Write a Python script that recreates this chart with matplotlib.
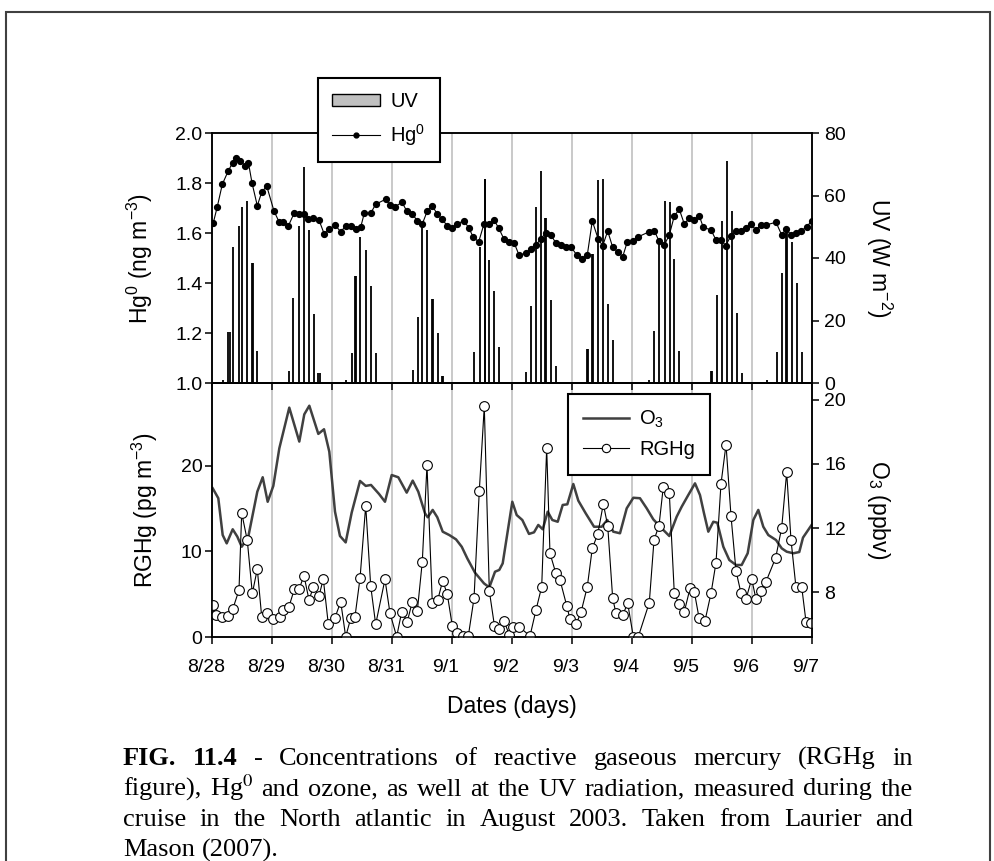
import matplotlib
matplotlib.use("Agg")
import matplotlib.pyplot as plt
import matplotlib.transforms as mtransforms
from matplotlib.patches import Patch, Rectangle
from matplotlib.lines import Line2D

plt.rcParams["font.family"] = ["Liberation Sans", "DejaVu Sans"]
plt.rcParams["mathtext.fontset"] = "custom"
plt.rcParams["mathtext.rm"] = "Liberation Sans"
plt.rcParams["mathtext.it"] = "Liberation Sans:italic"
plt.rcParams["mathtext.bf"] = "Liberation Sans:bold"

# --- Data (x in days after 8/28 00:00) ---
date_labels = ["8/28", "8/29", "8/30", "8/31", "9/1", "9/2",
               "9/3", "9/4", "9/5", "9/6", "9/7"]

hg_day = [0.022, 0.088, 0.172, 0.272, 0.342, 0.408, 0.475, 0.542, 0.608, 0.667,
          0.755, 0.828, 0.912, 1.033, 1.117, 1.188, 1.272, 1.372, 1.455, 1.538,
          1.605, 1.688, 1.783, 1.872, 1.955, 2.050, 2.145, 2.228, 2.312, 2.395,
          2.478, 2.538, 2.645, 2.728, 2.895, 2.967, 3.050, 3.167, 3.245, 3.338,
          3.422, 3.505, 3.588, 3.672, 3.755, 3.838, 3.922, 4.005, 4.078, 4.200,
          4.283, 4.355, 4.445, 4.533, 4.622, 4.700, 4.780, 4.867, 4.955, 5.038,
          5.117, 5.228, 5.317, 5.395, 5.478, 5.562, 5.650, 5.733, 5.812, 5.900,
          5.983, 6.078, 6.162, 6.255, 6.338, 6.438, 6.512, 6.595, 6.678, 6.762,
          6.845, 6.922, 7.012, 7.105, 7.288, 7.372, 7.450, 7.538, 7.622, 7.705,
          7.788, 7.872, 7.955, 8.038, 8.122, 8.188, 8.317, 8.400, 8.483, 8.562,
          8.645, 8.728, 8.817, 8.895, 8.978, 9.067, 9.145, 9.233, 9.400, 9.495,
          9.567, 9.650, 9.733, 9.817, 9.912, 9.995]
hg_val = [1.641, 1.705, 1.795, 1.849, 1.88, 1.90, 1.89, 1.87, 1.88, 1.80,
          1.709, 1.763, 1.788, 1.688, 1.645, 1.645, 1.628, 1.681, 1.676, 1.675,
          1.656, 1.661, 1.652, 1.595, 1.615, 1.632, 1.605, 1.628, 1.628, 1.615,
          1.623, 1.679, 1.679, 1.715, 1.735, 1.712, 1.705, 1.723, 1.688, 1.676,
          1.649, 1.636, 1.688, 1.709, 1.675, 1.655, 1.628, 1.621, 1.636, 1.649,
          1.619, 1.583, 1.565, 1.636, 1.636, 1.652, 1.619, 1.575, 1.565, 1.559,
          1.512, 1.519, 1.536, 1.552, 1.575, 1.601, 1.592, 1.559, 1.552, 1.545,
          1.545, 1.512, 1.495, 1.512, 1.648, 1.575, 1.549, 1.608, 1.543, 1.525,
          1.505, 1.565, 1.568, 1.585, 1.605, 1.609, 1.568, 1.552, 1.592, 1.668,
          1.695, 1.636, 1.659, 1.652, 1.668, 1.623, 1.612, 1.572, 1.572, 1.549,
          1.588, 1.608, 1.609, 1.619, 1.636, 1.612, 1.632, 1.632, 1.643, 1.592,
          1.616, 1.592, 1.599, 1.608, 1.625, 1.649]

uv_day = [0.188, 0.267, 0.292, 0.355, 0.455, 0.505, 0.588, 0.670, 0.687, 0.755,
          1.288, 1.355, 1.455, 1.538, 1.622, 1.705, 1.775, 1.792,
          2.233, 2.328, 2.387, 2.403, 2.472, 2.572, 2.655, 2.738,
          3.355, 3.438, 3.505, 3.588, 3.663, 3.680, 3.772, 3.837, 3.853,
          4.367, 4.467, 4.542, 4.558, 4.622, 4.705, 4.788,
          5.233, 5.317, 5.400, 5.488, 5.558, 5.575, 5.650, 5.733,
          6.247, 6.263, 6.330, 6.347, 6.438, 6.522, 6.605, 6.678,
          7.288, 7.372, 7.455, 7.550, 7.633, 7.705, 7.788,
          8.320, 8.337, 8.412, 8.495, 8.578, 8.672, 8.745, 8.828,
          9.245, 9.425, 9.508, 9.570, 9.587, 9.662, 9.745, 9.838]
uv_val = [1.0, 16.2, 16.2, 43.6, 50.2, 56.4, 58.2, 38.5, 38.5, 10.2,
          3.8, 27.3, 50.2, 69.0, 49.0, 22.1, 3.3, 3.3,
          1.0, 9.7, 34.2, 34.2, 46.8, 42.6, 31.0, 9.7,
          4.2, 21.2, 50.2, 49.0, 26.9, 26.9, 15.9, 2.2, 2.2,
          10.0, 43.6, 65.2, 65.2, 39.4, 29.4, 11.6,
          3.6, 24.6, 56.4, 68.0, 52.7, 52.7, 26.6, 5.4,
          10.9, 10.9, 41.3, 41.3, 65.0, 65.3, 25.3, 13.8,
          1.0, 16.6, 45.2, 58.2, 57.8, 39.6, 10.2,
          3.8, 3.8, 28.2, 51.8, 71.0, 55.0, 22.5, 3.3,
          1.0, 10.0, 35.2, 49.2, 49.2, 45.0, 32.0, 10.0]

rghg_day = [0.012, 0.067, 0.162, 0.262, 0.345, 0.450, 0.495, 0.588, 0.672, 0.755,
            0.828, 0.912, 1.012, 1.133, 1.188, 1.283, 1.372, 1.450, 1.533, 1.617,
            1.688, 1.783, 1.855, 1.938, 2.050, 2.145, 2.228, 2.312, 2.383, 2.467,
            2.562, 2.645, 2.728, 2.883, 2.967, 3.078, 3.162, 3.255, 3.338, 3.422,
            3.505, 3.583, 3.672, 3.762, 3.845, 3.922, 4.005, 4.088, 4.178, 4.272,
            4.367, 4.455, 4.538, 4.622, 4.708, 4.783, 4.867, 4.955, 5.022, 5.117,
            5.300, 5.400, 5.495, 5.578, 5.633, 5.728, 5.800, 5.912, 5.967, 6.067,
            6.150, 6.255, 6.338, 6.428, 6.522, 6.595, 6.678, 6.733, 6.845, 6.928,
            7.022, 7.105, 7.288, 7.367, 7.450, 7.522, 7.622, 7.705, 7.788, 7.872,
            7.967, 8.038, 8.117, 8.217, 8.317, 8.400, 8.483, 8.567, 8.650, 8.733,
            8.817, 8.900, 8.995, 9.067, 9.150, 9.233, 9.395, 9.495, 9.578, 9.650,
            9.733, 9.828, 9.900, 9.978]
rghg_val = [3.74, 2.57, 2.38, 2.5, 3.24, 5.5, 14.5, 11.3, 5.1, 7.95,
            2.38, 2.77, 2.1, 2.3, 3.16, 3.55, 5.58, 5.58, 7.17, 4.33,
            5.81, 4.8, 6.78, 1.52, 2.26, 4.13, 0.04, 2.18, 2.38, 6.86,
            15.36, 5.96, 1.48, 6.74, 2.77, 0.04, 2.96, 1.79, 4.13, 3.04,
            8.81, 20.1, 3.94, 4.33, 6.59, 4.99, 1.29, 0.43, 0.12, 0.12,
            4.53, 17.08, 27.0, 5.38, 1.29, 0.9, 1.91, 0.23, 1.2, 1.2,
            0.12, 3.16, 5.88, 22.1, 9.79, 7.52, 6.67, 3.66, 2.07, 1.48,
            2.89, 5.88, 10.37, 12.0, 15.56, 13.02, 4.53, 2.77, 2.57, 3.94,
            0.04, 0.04, 4.01, 11.35, 13.02, 17.58, 16.8, 5.11, 3.82, 2.96,
            5.69, 5.3, 2.26, 1.91, 5.11, 8.69, 17.9, 22.5, 14.15, 7.75,
            5.11, 4.44, 6.78, 4.41, 5.38, 6.47, 9.27, 12.78, 19.26, 11.35,
            5.81, 5.88, 1.79, 1.6]

o3_day = [0.012, 0.105, 0.178, 0.245, 0.345, 0.422, 0.495, 0.605, 0.755, 0.845,
          0.928, 1.022, 1.122, 1.288, 1.455, 1.538, 1.622, 1.772, 1.867, 1.955,
          2.050, 2.133, 2.228, 2.328, 2.467, 2.562, 2.650, 2.783, 2.883, 2.995,
          3.105, 3.245, 3.345, 3.438, 3.550, 3.595, 3.678, 3.755, 3.845, 3.955,
          4.067, 4.162, 4.255, 4.383, 4.533, 4.622, 4.717, 4.788, 4.845, 5.005,
          5.078, 5.172, 5.283, 5.367, 5.438, 5.512, 5.595, 5.672, 5.762, 5.845,
          5.922, 6.022, 6.105, 6.228, 6.367, 6.495, 6.588, 6.688, 6.800, 6.912,
          7.022, 7.133, 7.245, 7.355, 7.495, 7.622, 7.745, 7.828, 7.938, 8.050,
          8.133, 8.200, 8.272, 8.355, 8.422, 8.522, 8.622, 8.733, 8.828, 8.928,
          9.022, 9.105, 9.188, 9.272, 9.400, 9.495, 9.578, 9.688, 9.788, 9.850,
          9.995]
o3_val = [14.48, 13.86, 11.56, 11.04, 11.92, 11.46, 10.83, 11.46, 14.27, 15.17,
          13.64, 14.63, 16.98, 19.52, 17.4, 19.1, 19.64, 17.88, 18.17, 16.77,
          13.02, 11.5, 11.1, 12.96, 14.94, 14.63, 14.69, 14.13, 13.64, 15.31,
          15.17, 14.21, 14.96, 14.27, 12.92, 12.67, 13.13, 12.67, 11.77, 11.56,
          11.29, 10.83, 10.1, 9.21, 8.54, 8.29, 9.27, 9.38, 9.79, 13.64,
          12.81, 12.5, 11.63, 11.73, 12.19, 11.92, 13.02, 12.5, 12.39, 13.44,
          13.48, 14.75, 13.71, 12.92, 12.08, 12.08, 12.5, 11.77, 11.67, 13.23,
          13.89, 13.86, 13.23, 12.54, 11.98, 11.5, 12.71, 13.33, 14.06, 14.79,
          14.06, 12.92, 11.77, 12.39, 12.33, 10.83, 10.0, 9.69, 9.69, 10.42,
          12.5, 13.13, 12.08, 11.56, 11.25, 10.73, 10.52, 10.42, 10.5, 11.4,
          12.2]

caption_lines = [
    "FIG. 11.4 - Concentrations of reactive gaseous mercury (RGHg in",
    "figure), Hg$^{0}$ and ozone, as well at the UV radiation, measured during the",
    "cruise in the North atlantic in August 2003. Taken from Laurier and",
    "Mason (2007).",
]

W, H = 995, 861
fig = plt.figure(figsize=(W / 100, H / 100), dpi=100)


def fx(px):
    return px / W


def fy(py):
    return 1 - py / H


FS = 14
LFS = 16.5
ax1 = fig.add_axes([fx(212), fy(383), fx(812) - fx(212), fy(133) - fy(383)])
ax2 = fig.add_axes([fx(212), fy(637), fx(812) - fx(212), fy(383) - fy(637)])
ax1r = ax1.twinx()
ax2r = ax2.twinx()
for a, ar in [(ax1, ax1r), (ax2, ax2r)]:
    a.set_zorder(ar.get_zorder() + 1)
    a.patch.set_visible(False)
    for s in a.spines.values():
        s.set_linewidth(1.1)
    for s in ar.spines.values():
        s.set_linewidth(1.1)

ticks = list(range(len(date_labels)))
for a in (ax1, ax2):
    a.set_xlim(0, 10)
    a.set_xticks(ticks)
for ar in (ax1r, ax2r):
    for d in ticks[1:-1]:
        ar.axvline(d, color="#c0c0c0", lw=1.2, zorder=0)

# --- top panel: UV bars + Hg0 ---
ax1r.vlines(uv_day, 0, uv_val, color="black", lw=1.3, zorder=2)
ax1r.set_ylim(0, 80)
ax1r.set_yticks([0, 20, 40, 60, 80])
ax1.plot(hg_day, hg_val, "-", color="black", lw=0.8, marker="o", ms=4.2,
         mfc="black", mec="black")
ax1.set_ylim(1.0, 2.0)
ax1.set_yticks([1.0, 1.2, 1.4, 1.6, 1.8, 2.0])
ax1.set_yticklabels(["%.1f" % v for v in [1.0, 1.2, 1.4, 1.6, 1.8, 2.0]])
ax1.tick_params(axis="x", labelbottom=False)

# --- bottom panel: O3 + RGHg ---
ax2r.plot(o3_day, o3_val, color="#404040", lw=1.8)
ax2r.set_ylim(5.19, 21.06)
ax2r.set_yticks([8, 12, 16, 20])
ax2.plot(rghg_day, rghg_val, "-", color="black", lw=0.8, marker="o", ms=7,
         mfc="white", mec="black", mew=0.8)
ax2.set_ylim(0, 29.7)
ax2.set_yticks([0, 10, 20])
ax2.set_xticklabels(date_labels)

for a in (ax1, ax2, ax1r, ax2r):
    a.tick_params(direction="out", length=5, width=1.1, labelsize=FS, pad=2)
for a in (ax1r, ax2r):
    a.tick_params(pad=4)
ax2.tick_params(axis="x", pad=11)
off = mtransforms.ScaledTranslation(-0.06, 0, fig.dpi_scale_trans)
for lab in ax2.get_xticklabels():
    lab.set_transform(lab.get_transform() + off)

# legends
h1 = [Patch(facecolor="#c0c0c0", edgecolor="black", linewidth=1),
      Line2D([], [], color="black", lw=0.8, marker="o", ms=3.5)]
leg1 = ax1.legend(h1, ["UV", "Hg$^{0}$"], loc="upper left",
                  bbox_to_anchor=(fx(318), fy(78)), bbox_transform=fig.transFigure,
                  borderaxespad=0, fancybox=False, edgecolor="black", framealpha=1,
                  fontsize=14.5, handlelength=2.4, handleheight=0.6,
                  handletextpad=0.5, labelspacing=0.55, borderpad=0.7)
leg1.get_frame().set_linewidth(1.5)

h2 = [Line2D([], [], color="#404040", lw=1.8),
      Line2D([], [], color="black", lw=0.8, marker="o", ms=6, mfc="white",
             mec="black", mew=0.8)]
leg2 = ax2.legend(h2, ["O$_{3}$", "RGHg"], loc="upper left",
                  bbox_to_anchor=(fx(568), fy(394)), bbox_transform=fig.transFigure,
                  borderaxespad=0, fancybox=False, edgecolor="black", framealpha=1,
                  fontsize=14.5, handlelength=2.3, handletextpad=0.5,
                  labelspacing=0.5, borderpad=0.75)
leg2.get_frame().set_linewidth(1.5)

# axis labels
fig.text(fx(140), fy(258), "Hg$^{0}$ (ng m$^{-3}$)", rotation=90,
         ha="center", va="center", fontsize=LFS)
fig.text(fx(145), fy(510), "RGHg (pg m$^{-3}$)", rotation=90,
         ha="center", va="center", fontsize=LFS)
fig.text(fx(879), fy(258), "UV (W m$^{-2}$)", rotation=270,
         ha="center", va="center", fontsize=LFS)
fig.text(fx(879), fy(510), "O$_{3}$ (ppbv)", rotation=270,
         ha="center", va="center", fontsize=LFS)
fig.text(fx(512), fy(707), "Dates (days)", ha="center", va="center", fontsize=LFS)

# caption, justified
CFS = 19
fig.canvas.draw()
renderer = fig.canvas.get_renderer()
x0, x1 = 123, 913
base = [765, 795.5, 826, 856.5]
for li, line in enumerate(caption_lines):
    words = line.split(" ")
    objs = []
    for wi, w in enumerate(words):
        bold = (li == 0 and wi < 2)
        t = fig.text(0, fy(base[li]), w, fontsize=CFS, family="Liberation Serif",
                     weight="bold" if bold else "normal", va="baseline",
                     math_fontfamily="stix")
        objs.append(t)
    widths = [t.get_window_extent(renderer).width for t in objs]
    if li < len(caption_lines) - 1:
        gap = (x1 - x0 - sum(widths)) / (len(words) - 1)
    else:
        gap = 0.25 * CFS * 100 / 72
    x = x0
    for t, wd in zip(objs, widths):
        t.set_x(fx(x))
        x += wd + gap

# outer frame
fig.add_artist(Rectangle((fx(6), fy(880)), fx(990) - fx(6), fy(12) - fy(880),
                         transform=fig.transFigure, fill=False,
                         edgecolor="#404040", lw=1.5, clip_on=False))

fig.savefig("out.png", dpi=100)
